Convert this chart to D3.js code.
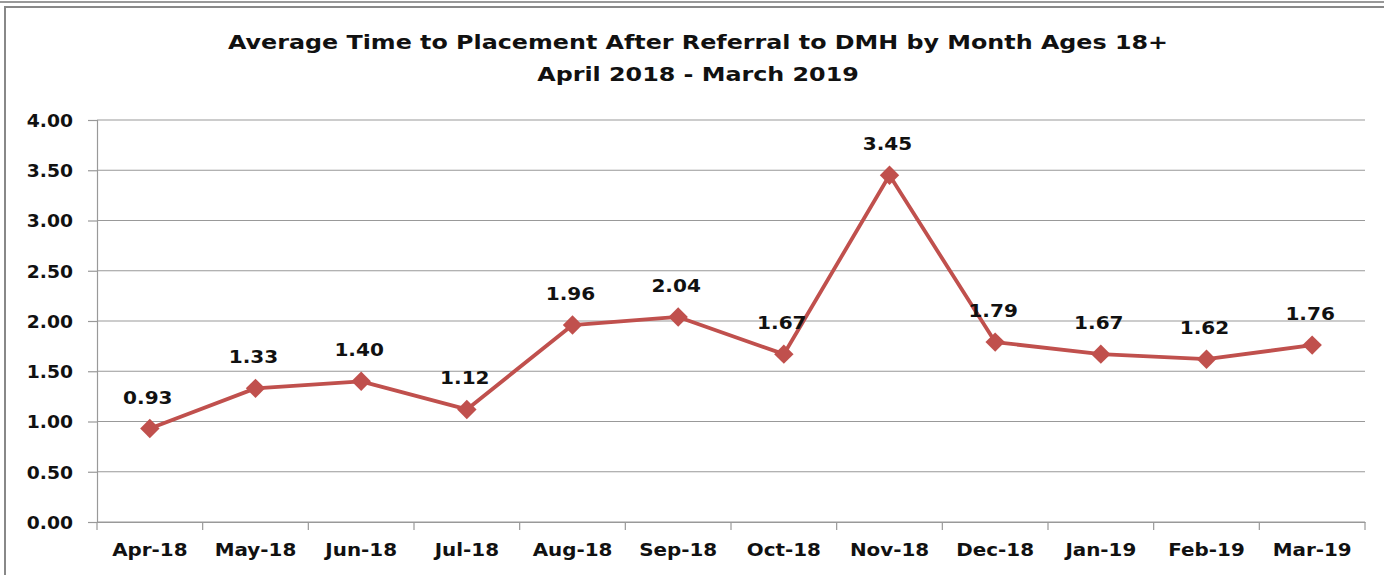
<!DOCTYPE html>
<html>
<head>
<meta charset="utf-8">
<script src="https://cdn.jsdelivr.net/npm/d3@7"></script>
<style>
html,body{margin:0;padding:0;background:#fff;}
svg{display:block;}
text{font-family:"DejaVu Sans",Verdana,sans-serif;font-weight:bold;fill:#111;}
</style>
</head>
<body>
<svg id="chart" width="1384" height="575"></svg>
<script>
const months = ["Apr-18","May-18","Jun-18","Jul-18","Aug-18","Sep-18","Oct-18","Nov-18","Dec-18","Jan-19","Feb-19","Mar-19"];
const values = [0.93,1.33,1.40,1.12,1.96,2.04,1.67,3.45,1.79,1.67,1.62,1.76];
const yTicks = [0,0.5,1,1.5,2,2.5,3,3.5,4];
const titleLines = ["Average Time to Placement After Referral to DMH by Month Ages 18+","April 2018 - March 2019"];

const svg = d3.select("#chart");
const W = 1384, H = 575;
const m = {left:97, right:1365, top:120, bottom:522};

function stretch(sel, f){
  sel.each(function(){
    const w = this.getComputedTextLength();
    d3.select(this).attr("textLength", w*f).attr("lengthAdjust","spacingAndGlyphs");
  });
}

// frame
svg.append("line").attr("x1",0).attr("x2",W).attr("y1",2).attr("y2",2).attr("stroke","#999").attr("stroke-width",2);
svg.append("rect").attr("x",5).attr("y",7).attr("width",W+10).attr("height",H+10)
  .attr("fill","none").attr("stroke","#888").attr("stroke-width",2);

const x = d3.scaleBand().domain(months).range([m.left,m.right]).padding(0);
const y = d3.scaleLinear().domain([0,4]).range([m.bottom,m.top]);

// gridlines
svg.append("g").selectAll("line").data(yTicks).join("line")
  .attr("x1",m.left).attr("x2",m.right)
  .attr("y1",d=>y(d)).attr("y2",d=>y(d))
  .attr("stroke","#999").attr("stroke-width",1.2);

// y axis
const yAxis = d3.axisLeft(y).tickValues(yTicks).tickFormat(d3.format(".2f")).tickSize(9).tickPadding(15);
const gy = svg.append("g").attr("transform",`translate(${m.left},0)`).call(yAxis);
gy.select(".domain").attr("stroke","#999").attr("stroke-width",1.2);
gy.selectAll(".tick line").attr("stroke","#999").attr("stroke-width",1.2);
gy.selectAll("text").style("font-size","18px").attr("font-family","DejaVu Sans").attr("font-weight","bold").attr("fill","#111").attr("dy","0.35em");
stretch(gy.selectAll("text"), 1.04);

// x axis
const xAxis = d3.axisBottom(x).tickSize(0).tickPadding(22);
const gx = svg.append("g").attr("transform",`translate(0,${m.bottom})`).call(xAxis);
gx.select(".domain").attr("stroke","#999").attr("stroke-width",1.2);
gx.selectAll("text").style("font-size","17px").attr("font-family","DejaVu Sans").attr("font-weight","bold").attr("fill","#111");
stretch(gx.selectAll("text"), 1.17);
// category boundary ticks
const bounds = months.map(d=>x(d)).concat([m.right]);
svg.append("g").selectAll("line").data(bounds).join("line")
  .attr("x1",d=>d).attr("x2",d=>d).attr("y1",m.bottom).attr("y2",m.bottom+8)
  .attr("stroke","#999").attr("stroke-width",1.2);

// line
const cx = d=>x(d)+x.bandwidth()/2;
const line = d3.line().x((d,i)=>cx(months[i])).y(d=>y(d));
svg.append("path").datum(values).attr("d",line)
  .attr("fill","none").attr("stroke","#C0504D").attr("stroke-width",3.8).attr("stroke-linejoin","round");

// markers
svg.append("g").selectAll("path").data(values).join("path")
  .attr("d",d3.symbol().type(d3.symbolDiamond2).size(240))
  .attr("transform",(d,i)=>`translate(${cx(months[i])},${y(d)})`)
  .attr("fill","#C0504D");

// data labels
const dl = svg.append("g").selectAll("text").data(values).join("text")
  .attr("x",(d,i)=>cx(months[i])-2)
  .attr("y",d=>y(d)-25)
  .attr("text-anchor","middle")
  .style("font-size","17px")
  .text(d=>d3.format(".2f")(d));
stretch(dl, 1.18);

// title
const tl = svg.append("g").selectAll("text").data(titleLines).join("text")
  .attr("x",698).attr("y",(d,i)=>49+i*32)
  .attr("text-anchor","middle")
  .style("font-size","20px")
  .text(d=>d);
stretch(tl, 1.19);
</script>
</body>
</html>
